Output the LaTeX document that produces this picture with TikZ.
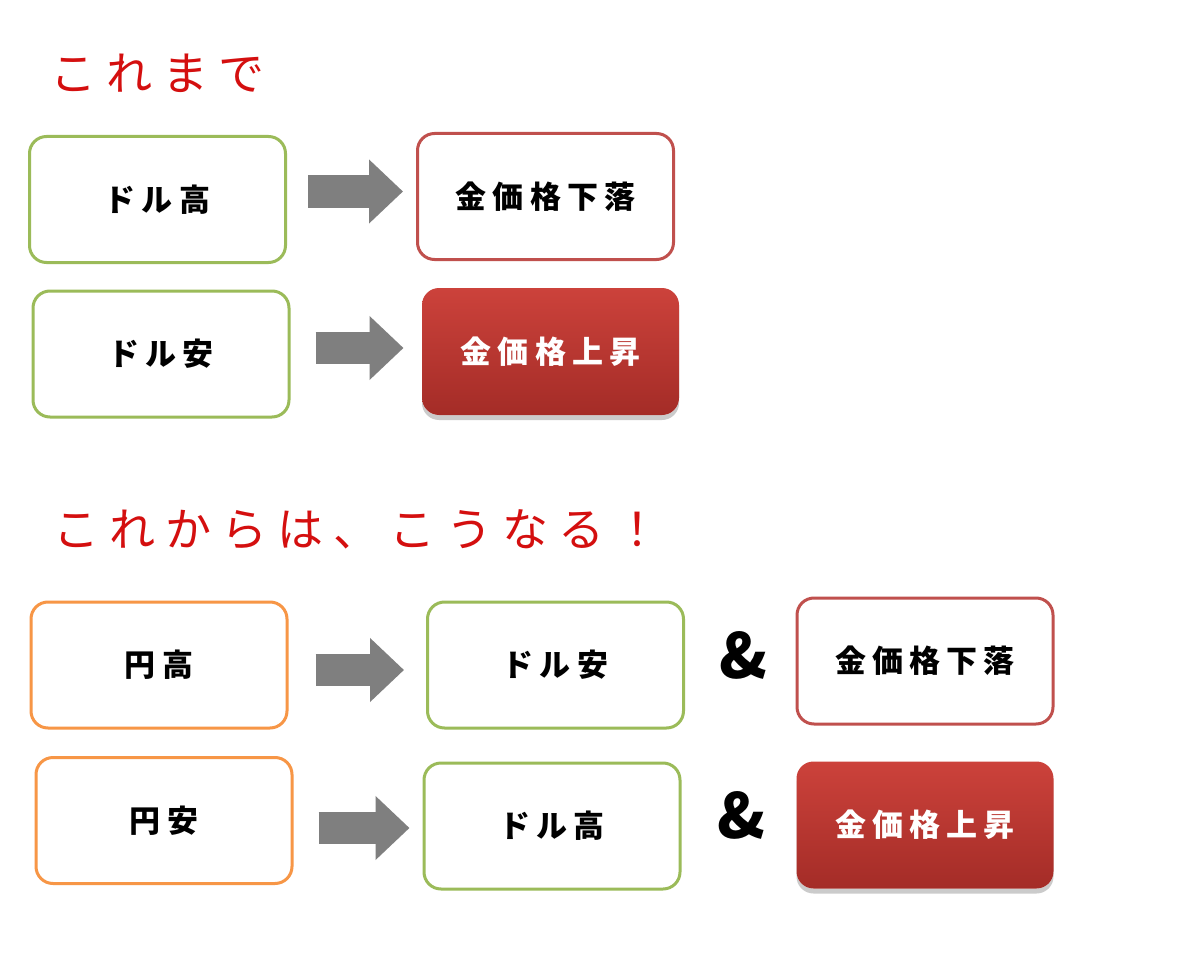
\documentclass[tikz,border=0pt]{standalone}
\usepackage{fontspec}
\usetikzlibrary{arrows.meta,shadows,calc}
\newfontfamily\jpbox[LetterSpace=20]{Noto Sans CJK JP}
\newfontfamily\jptitle[LetterSpace=22]{Noto Sans CJK JP}
\newfontfamily\jpamp{Noto Sans CJK JP}
\definecolor{boxgreen}{HTML}{9BBB59}
\definecolor{boxorange}{HTML}{F79646}
\definecolor{boxred}{HTML}{C0504D}
\definecolor{filltop}{HTML}{CC423B}
\definecolor{fillbot}{HTML}{A42C27}
\definecolor{arrowgray}{HTML}{7F7F7F}
\definecolor{titlered}{HTML}{D40F0F}
\tikzset{
  x=1pt, y=-1pt,
  basebox/.style={rounded corners=17pt, line width=3pt, minimum width=256pt, minimum height=126pt,
    font=\jpbox\bfseries\fontsize{31}{34}\selectfont, fill=white, inner sep=0pt},
  greenbox/.style={basebox, draw=boxgreen},
  orangebox/.style={basebox, draw=boxorange},
  redbox/.style={basebox, draw=boxred},
  hotbox/.style={basebox, draw=none, top color=filltop, bottom color=fillbot, text=white,
    minimum width=257pt, minimum height=127pt,
    drop shadow={shadow xshift=0pt, shadow yshift=-5pt, fill=black!45, opacity=0.45}},
  blockarrow/.style={draw=arrowgray, line width=32pt, -{Triangle[length=34pt,width=62pt]}},
  titletext/.style={anchor=west, text=titlered, font=\jptitle\fontsize{46}{50}\selectfont, inner sep=0pt},
  amptext/.style={font=\jpamp\bfseries\fontsize{62}{66}\selectfont, inner sep=0pt}
}
\begin{document}
\begin{tikzpicture}
\useasboundingbox (0,0) rectangle (1200,971);
\fill[white] (0,0) rectangle (1200,971);

\node[titletext] (t1) at (50,73) {これまで};
\node[titletext] (t2) at (53,530) {これからは、こうなる！};

% section 1
\node[greenbox] (a1) at (157.5,199.5) {ドル高};
\node[redbox]   (b1) at (545.5,196.5) {金価格下落};
\node[greenbox] (a2) at (161,354) {ドル安};
\node[hotbox]   (b2) at (550.5,351.5) {金価格上昇};

\draw[blockarrow] ($(a1.east)+(21,-8)$) -- ($(b1.west)+(-13,-5)$);
\draw[blockarrow] ($(a2.east)+(25,-6)$) -- ($(b2.west)+(-17,-3.5)$);

% section 2
\node[orangebox] (c3) at (159,665) {円高};
\node[greenbox]  (d3) at (555.5,665) {ドル安};
\node[amptext]   (m3) at (743,655) {\&};
\node[redbox]    (e3) at (925,661) {金価格下落};

\node[orangebox] (c4) at (164,820.5) {円安};
\node[greenbox]  (d4) at (552,826) {ドル高};
\node[amptext]   (m4) at (741,815) {\&};
\node[hotbox]    (e4) at (925,825) {金価格上昇};

\draw[blockarrow] ($(c3.east)+(27,5)$) -- ($(d3.west)+(-22,5)$);
\draw[blockarrow] ($(c4.east)+(25,7.5)$) -- ($(d4.west)+(-13,2)$);
\end{tikzpicture}
\end{document}
